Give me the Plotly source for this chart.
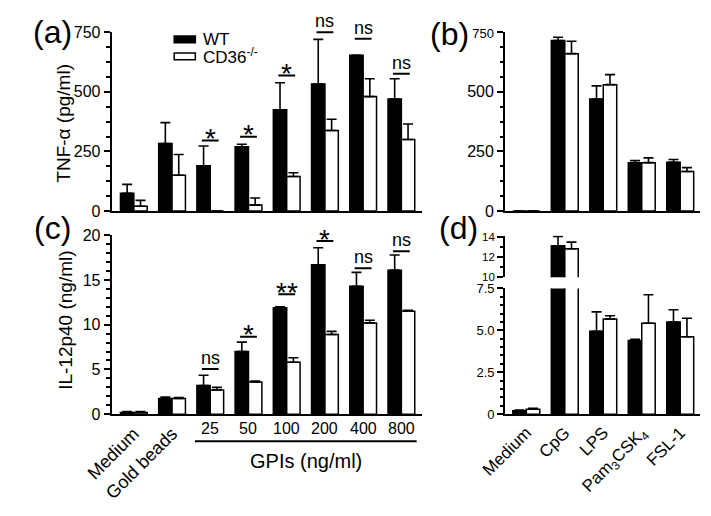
import plotly.graph_objects as go

# ---------------- data ----------------
cats_left = ["Medium", "Gold beads", "25", "50", "100", "200", "400", "800"]
cats_right = ["Medium", "CpG", "LPS", "Pam<sub>3</sub>CSK<sub>4</sub>", "FSL-1"]

tnf_wt = [75, 283, 190, 270, 425, 533, 653, 470]
tnf_wt_err = [37, 88, 83, 10, 113, 187, 0, 85]
tnf_ko = [20, 150, 0, 25, 145, 338, 480, 300]
tnf_ko_err = [25, 87, 0, 30, 16, 47, 75, 65]

tnf_b_wt = [0, 715, 470, 203, 205]
tnf_b_wt_err = [0, 14, 55, 9, 11]
tnf_b_ko = [0, 660, 530, 203, 166]
tnf_b_ko_err = [0, 52, 42, 20, 16]

il_wt = [0.2, 1.75, 3.2, 7.0, 11.9, 16.7, 14.3, 16.1]
il_wt_err = [0.1, 0.15, 1.15, 1.05, 0.1, 1.9, 1.55, 1.7]
il_ko = [0.2, 1.75, 2.7, 3.6, 5.8, 8.9, 10.2, 11.5]
il_ko_err = [0.1, 0.1, 0.3, 0.1, 0.5, 0.35, 0.3, 0.1]

il_d_wt = [0.2, 13.1, 4.95, 4.4, 5.5]
il_d_wt_err = [0.05, 0.9, 1.15, 0.07, 0.73]
il_d_ko = [0.3, 12.8, 5.67, 5.42, 4.62]
il_d_ko_err = [0.05, 0.65, 0.2, 1.7, 1.1]

sig_cats = ["25", "50", "100", "200", "400", "800"]
sig_a_y = [296, 312, 568, 750, 722, 576]
sig_a_text = ["*", "*", "*", "ns", "ns", "ns"]
sig_c_y = [5.05, 8.65, 13.4, 19.35, 16.3, 18.2]
sig_c_text = ["ns", "*", "**", "*", "ns", "ns"]

tnf_ticks = [0, 250, 500, 750]
il_ticks = [0, 5, 10, 15, 20]
il_d_lo_ticks = [0, 2.5, 5, 7.5]
il_d_lo_ticktext = ["0", "2.5", "5.0", "7.5"]
il_d_hi_ticks = [10, 12, 14]

series_names = ["WT", "CD36<sup>-/-</sup>"]
gpi_title = "GPIs (ng/ml)"
ytitle_a = "TNF-α (pg/ml)"
ytitle_c = "IL-12p40 (ng/ml)"

# ---------------- layout helpers ----------------
W, H = 711, 516
FONT = "Liberation Sans, Arial, Helvetica, sans-serif"


def px_x(p):
    return p / W


def px_y(p):
    return 1 - p / H


XA = [px_x(88), px_x(411)]
XB = [px_x(497), px_x(700)]
YA = [px_y(210), px_y(25)]
YC = [px_y(420), px_y(235)]
YD_LO = [px_y(420), px_y(290)]
YD_HI = [px_y(278.3), px_y(235.3)]
RA = [0, 750]
RC = [0, 20]
RD_LO = [0, 7.5]
RD_HI = [10, 14.1]
XR_L = [-0.58, 7.55]
XR_R = [-0.55, 4.525]


def to_paper(v, dom, rng):
    return dom[0] + (v - rng[0]) / (rng[1] - rng[0]) * (dom[1] - dom[0])


def bar(x, y, err, fill, xa, ya):
    return go.Bar(
        x=x, y=y, xaxis=xa, yaxis=ya, showlegend=False,
        marker=dict(color=fill, line=dict(color="black", width=1.5)),
        error_y=dict(type="data", array=err, arrayminus=[0] * len(err),
                     symmetric=False, color="black", thickness=1.6, width=5),
    )


fig = go.Figure()
fig.add_trace(bar(cats_left, tnf_wt, tnf_wt_err, "black", "x", "y"))
fig.add_trace(bar(cats_left, tnf_ko, tnf_ko_err, "white", "x", "y"))
fig.add_trace(bar(cats_right, tnf_b_wt, tnf_b_wt_err, "black", "x2", "y2"))
fig.add_trace(bar(cats_right, tnf_b_ko, tnf_b_ko_err, "white", "x2", "y2"))
fig.add_trace(bar(cats_left, il_wt, il_wt_err, "black", "x3", "y3"))
fig.add_trace(bar(cats_left, il_ko, il_ko_err, "white", "x3", "y3"))
fig.add_trace(bar(cats_right, il_d_wt, il_d_wt_err, "black", "x4", "y4"))
fig.add_trace(bar(cats_right, il_d_ko, il_d_ko_err, "white", "x4", "y4"))
fig.add_trace(bar(cats_right, il_d_wt, il_d_wt_err, "black", "x4", "y5"))
fig.add_trace(bar(cats_right, il_d_ko, il_d_ko_err, "white", "x4", "y5"))


def yax(dom, rng, anchor, tickvals, ticktext, minor, size=16):
    return dict(domain=dom, range=rng, anchor=anchor, showgrid=False, zeroline=False,
                showline=True, linecolor="black", linewidth=2, ticks="outside",
                ticklen=6, tickwidth=2, tickcolor="black",
                tickmode="array", tickvals=tickvals, ticktext=ticktext,
                tickfont=dict(family=FONT, size=size, color="black"),
                minor=dict(ticks="outside", ticklen=3.5, tickwidth=1.5,
                           tickcolor="black", dtick=minor, tick0=0, showgrid=False))


def xax(dom, rng, anchor, cats, **kw):
    d = dict(domain=dom, range=rng, anchor=anchor, type="category",
             categoryorder="array", categoryarray=cats, showgrid=False,
             zeroline=False, showline=True, linecolor="black", linewidth=2,
             ticks="", showticklabels=False)
    d.update(kw)
    return d


tnf_text = [str(v) for v in tnf_ticks]
tnf_b_text = tnf_text[:-1] + ["<span style='font-size:13px'>%s</span>" % tnf_text[-1]]

fig.update_layout(
    width=W, height=H, autosize=False,
    margin=dict(l=0, r=0, t=0, b=0),
    paper_bgcolor="white", plot_bgcolor="white",
    barmode="group", bargap=0.3, bargroupgap=0,
    font=dict(family=FONT, color="black"),
    xaxis=xax(XA, XR_L, "y", cats_left),
    yaxis=yax(YA, RA, "x", tnf_ticks, tnf_text, 62.5),
    xaxis2=xax(XB, XR_R, "y2", cats_right),
    yaxis2=yax(YA, RA, "x2", tnf_ticks, tnf_b_text, 62.5),
    xaxis3=xax(XA, XR_L, "y3", cats_left, showticklabels=True, tickangle=-45,
               tickmode="array", tickvals=cats_left[:2], ticktext=cats_left[:2],
               tickfont=dict(family=FONT, size=18, color="black")),
    yaxis3=yax(YC, RC, "x3", il_ticks, [str(v) for v in il_ticks], 1),
    xaxis4=xax(XB, XR_R, "y4", cats_right, showticklabels=True, tickangle=-45,
               tickfont=dict(family=FONT, size=17, color="black")),
    yaxis4=yax(YD_LO, RD_LO, "x4", il_d_lo_ticks, il_d_lo_ticktext, 0.5, size=13),
    yaxis5=yax(YD_HI, RD_HI, "x4", il_d_hi_ticks, [str(v) for v in il_d_hi_ticks], 1,
               size=11.5),
)

ann = []
shapes = []

# panel letters
for t, x, y in [("(a)", 26, 25), ("(b)", 439, 27), ("(c)", 26, 228), ("(d)", 449, 228)]:
    ann.append(dict(text=t, x=px_x(x), y=px_y(y), xref="paper", yref="paper",
                    showarrow=False, font=dict(size=32, family=FONT),
                    xanchor="center", yanchor="middle"))

# y titles
ann.append(dict(text=ytitle_a, x=px_x(37), y=px_y(119), xref="paper", yref="paper",
                showarrow=False, textangle=-90, xanchor="center", yanchor="middle",
                font=dict(size=19, family=FONT)))
ann.append(dict(text=ytitle_c, x=px_x(40), y=px_y(323), xref="paper", yref="paper",
                showarrow=False, textangle=-90, xanchor="center", yanchor="middle",
                font=dict(size=19, family=FONT)))

# dose labels, underline and GPI title
for c in cats_left[2:]:
    ann.append(dict(text=c, x=cats_left.index(c), y=px_y(435), xref="x3", yref="paper",
                    showarrow=False, font=dict(size=16, family=FONT),
                    xanchor="center", yanchor="middle"))
i0, i1 = cats_left.index("25"), cats_left.index("800")
shapes.append(dict(type="line", xref="x3", yref="paper", x0=i0 - 0.4, x1=i1 + 0.4,
                   y0=px_y(448), y1=px_y(448), line=dict(color="black", width=2)))
ann.append(dict(text=gpi_title, x=(i0 + i1) / 2, y=px_y(468), xref="x3", yref="paper",
                showarrow=False, font=dict(size=20, family=FONT),
                xanchor="center", yanchor="middle"))

# significance marks
for xa, dom, rng, ys, texts in [("x", YA, RA, sig_a_y, sig_a_text),
                                ("x3", YC, RC, sig_c_y, sig_c_text)]:
    for c, v, t in zip(sig_cats, ys, texts):
        idx = cats_left.index(c)
        yp = to_paper(v, dom, rng)
        shapes.append(dict(type="line", xref=xa, yref="paper", x0=idx - 0.22,
                           x1=idx + 0.22, y0=yp, y1=yp,
                           line=dict(color="black", width=2)))
        star = t.startswith("*")
        ann.append(dict(text=t, x=idx, y=yp, xref=xa, yref="paper", showarrow=False,
                        font=dict(size=28 if star else 18, family=FONT),
                        xanchor="center", yanchor="middle", yshift=2 if star else 11))

# legend
for name, fill, yc in zip(series_names, ["black", "white"], [32.5, 50]):
    shapes.append(dict(type="rect", xref="paper", yref="paper",
                       x0=px_x(153), x1=px_x(175), y0=px_y(yc + 3.5), y1=px_y(yc - 3.5),
                       fillcolor=fill, line=dict(color="black", width=1.5)))
    ann.append(dict(text=name, x=px_x(181), y=px_y(yc), xref="paper", yref="paper",
                    showarrow=False, xanchor="left", yanchor="middle",
                    font=dict(size=17, family=FONT)))

fig.update_layout(annotations=ann, shapes=shapes)
fig.write_html("out.html", config={"displayModeBar": False},
               post_script="document.body.style.margin='0px';")
